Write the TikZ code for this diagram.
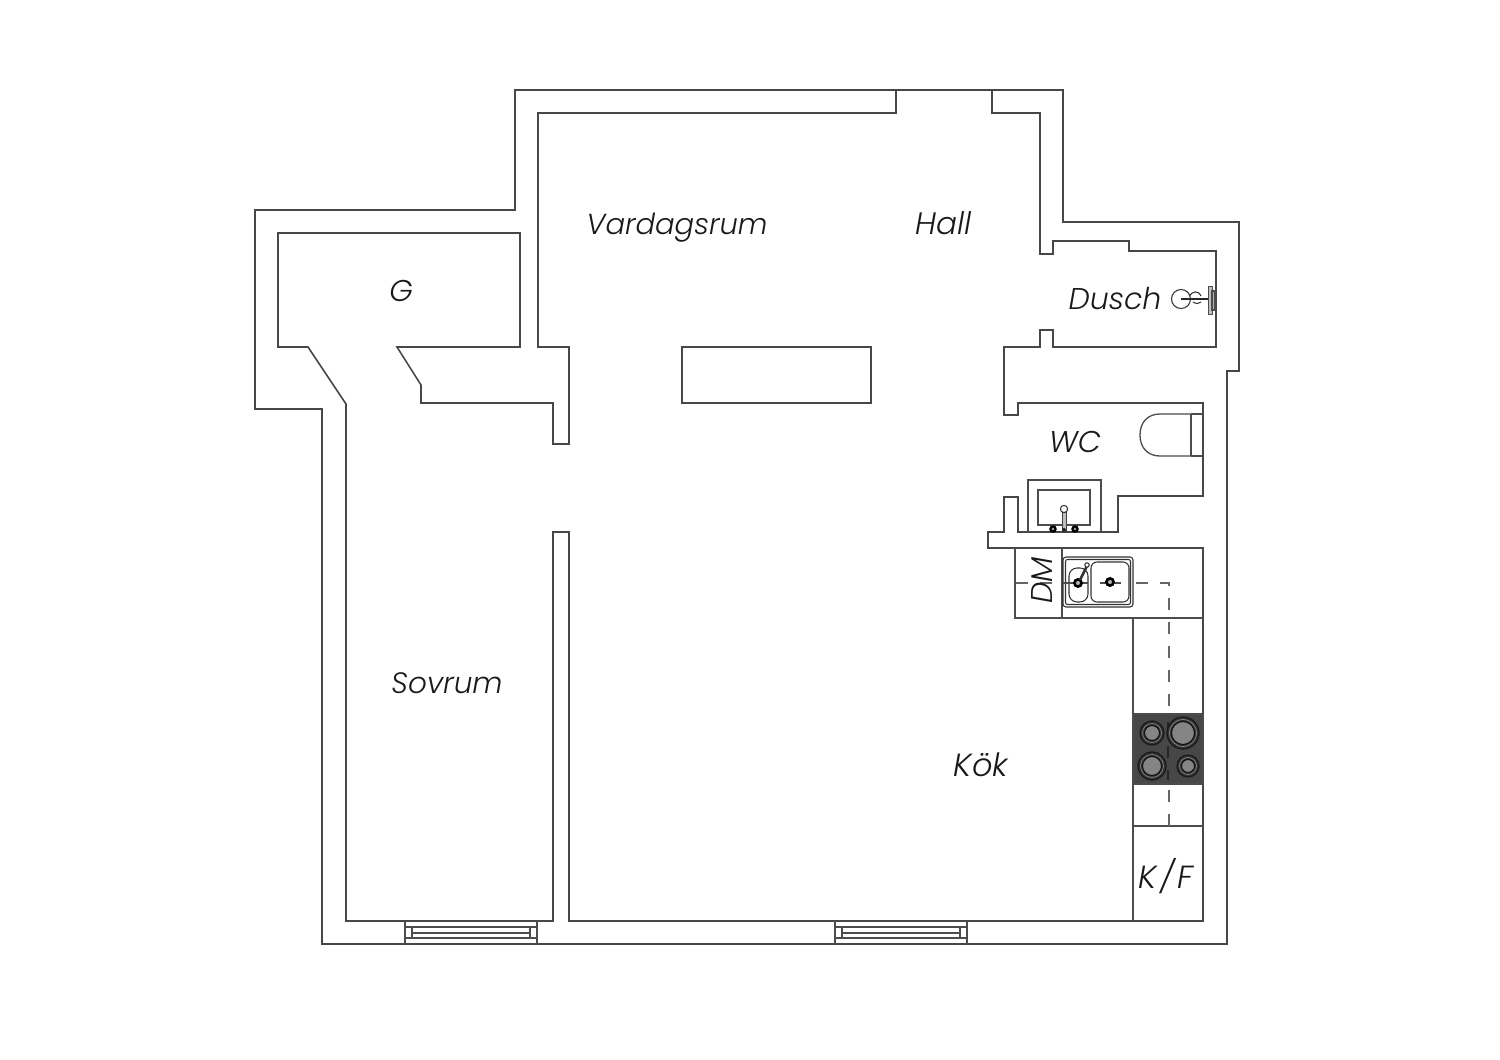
\documentclass[tikz,border=0pt]{standalone}
\usepackage{fontspec}
\setmainfont{Lato}
\newfontfamily\labelfont{Poppins Light Italic}
\begin{document}
\begin{tikzpicture}[x=1pt,y=-1pt,
  wall/.style={draw=black!72,line width=1.55pt,line join=miter},
  thinline/.style={draw=black!70,line width=1.3pt},
  fine/.style={draw=black!80,line width=1.05pt},
  roomlabel/.style={font=\labelfont\fontsize{30}{30}\selectfont,text=black!90,inner sep=0pt,anchor=base},
  dashline/.style={draw=black!60,line width=1.2pt,dash pattern=on 12pt off 12pt},
  burner/.style={draw=black!90,line width=1.2pt,fill=black!80}]
\useasboundingbox (0,0) rectangle (1500,1060);
\fill[white] (0,0) rectangle (1500,1060);
% outer wall
\draw[wall] (515,90) -- (1063,90) -- (1063,222) -- (1239,222) -- (1239,371) -- (1227,371) -- (1227,944) -- (322,944) -- (322,409) -- (255,409) -- (255,210) -- (515,210) -- cycle;
% inner wall
\draw[wall] (896,90) -- (896,113) -- (538,113) -- (538,347) -- (569,347) -- (569,444) -- (553,444) -- (553,403) -- (421,403) -- (421,385) -- (397,347) -- (520,347) -- (520,233) -- (278,233) -- (278,347) -- (308,347) -- (346,404) -- (346,921) -- (553,921) -- (553,532) -- (569,532) -- (569,921) -- (1203,921) -- (1203,548) -- (988,548) -- (988,532) -- (1004,532) -- (1004,497) -- (1018,497) -- (1018,532) -- (1118,532) -- (1118,496) -- (1203,496) -- (1203,403) -- (1018,403) -- (1018,415) -- (1004,415) -- (1004,347) -- (1040,347) -- (1040,330) -- (1053,330) -- (1053,347) -- (1216,347) -- (1216,251) -- (1129,251) -- (1129,241) -- (1053,241) -- (1053,254) -- (1040,254) -- (1040,113) -- (992,113) -- (992,90);
% central column
\draw[wall] (682,347) rectangle (871,403);
% windows
\foreach \wx in {405,835}{
  \draw[thinline] (\wx,921) -- (\wx,944) (\wx+132,921) -- (\wx+132,944);
  \draw[thinline] (\wx,927) -- (\wx+132,927) (\wx,938) -- (\wx+132,938);
  \draw[thinline] (\wx+7,927) -- (\wx+7,938) (\wx+125,927) -- (\wx+125,938) (\wx+7,933) -- (\wx+125,933);
}
% counters
\draw[thinline] (1015,548) -- (1015,618) -- (1203,618) (1062,548) -- (1062,618) (1133,618) -- (1133,921) (1133,826) -- (1203,826);
% dashed service line
\draw[dashline] (1016,583) -- (1169,583) -- (1169,826);
% sink
\fill[white,rounded corners=3pt] (1063,557) rectangle (1133,607);
\draw[fine,rounded corners=3pt] (1063,557) rectangle (1133,607);
\draw[fine,rounded corners=2pt] (1065.5,559.5) rectangle (1130.5,604.5);
\draw[fine,rounded corners=8pt] (1069,568) rectangle (1088,602);
\draw[fine,rounded corners=6pt] (1091,562) rectangle (1129,602);
\draw[draw=black!70,line width=1.1pt] (1063,583) -- (1088,583) (1100,583) -- (1121,583);
\draw[draw=black,line width=2.6pt,fill=black!30] (1078,583) circle [radius=3.6] (1110,582) circle [radius=3.6];
\draw[draw=black!80,line width=2.6pt] (1080,580) -- (1087,566);
\draw[fine,fill=white] (1087,565) circle [radius=2.2];
% washbasin
\draw[thinline] (1028,532) -- (1028,480) -- (1101,480) -- (1101,532);
\draw[thinline] (1038,490) rectangle (1090,525);
\foreach \dx in {1053,1075}{\draw[draw=black,line width=2.2pt,fill=black!40] (\dx,529) circle [radius=2.6];}
\draw[draw=black!75,line width=1pt,fill=black!25] (1062,512) rectangle (1066,531);
\draw[fine,fill=white] (1064,509) circle [radius=3.6];
\fill[black!85] (1064,530) circle [radius=2];
% toilet
\draw[thinline] (1191,414) -- (1203,414) (1191,456) -- (1203,456) (1191,414) -- (1191,456);
\draw[thinline] (1191,414) -- (1160,414) .. controls (1148,414) and (1140,422) .. (1140,435) .. controls (1140,448) and (1148,456) .. (1160,456) -- (1191,456);
% shower
\draw[fine] (1181,299) circle [radius=9.5];
\draw[fine] (1189,296) .. controls (1193,291) and (1198,290) .. (1201,296);
\draw[fine] (1193,302) .. controls (1196,304) and (1199,304) .. (1201,302);
\draw[draw=black!85,line width=2pt] (1181,299) -- (1212,299);
\draw[draw=black!70,line width=1pt,fill=black!25] (1208,286) rectangle (1212,314);
\draw[draw=black!70,line width=1.2pt,fill=black!30] (1212,291) rectangle (1215,310);
% hob
\fill[black!72] (1133,714) rectangle (1203,784);
\draw[thinline] (1133,714) rectangle (1203,784);
\draw[draw=black!85,line width=1.1pt,dash pattern=on 12pt off 12pt] (1168,722) -- (1168,780);
\foreach \cx/\cy/\rr in {1152/733/12,1183/733/16,1152/766/14,1188/766/11}{
  \draw[burner] (\cx,\cy) circle [radius=\rr];
  \draw[draw=black!50,line width=.7pt] (\cx,\cy) circle [radius=\rr-2.5];
  \draw[draw=black!95,line width=1pt,fill=black!48] (\cx,\cy) circle [radius=\rr-4.5];
}
% labels
\node[roomlabel,font=\labelfont\fontsize{29}{29}\selectfont] (vardagsrum) at (677,234) {Vardagsrum};
\node[roomlabel,font=\labelfont\fontsize{31}{31}\selectfont] (hall) at (944,234) {Hall};
\node[roomlabel] (g) at (401,301) {G};
\node[roomlabel] (dusch) at (1115,309) {Dusch};
\node[roomlabel] (wc) at (1075,452) {WC};
\node[roomlabel,rotate=90] (dm) at (1052,580) {DM};
\node[roomlabel,font=\labelfont\fontsize{29.5}{30}\selectfont] (sovrum) at (447,693) {Sovrum};
\node[roomlabel,font=\labelfont\fontsize{32}{32}\selectfont] (kok) at (981,776) {Kök};
\node[roomlabel,font=\labelfont\fontsize{32}{32}\selectfont] (kf) at (1166,888) {K\hspace{3pt}/\hspace{3pt}F};
\end{tikzpicture}
\end{document}
